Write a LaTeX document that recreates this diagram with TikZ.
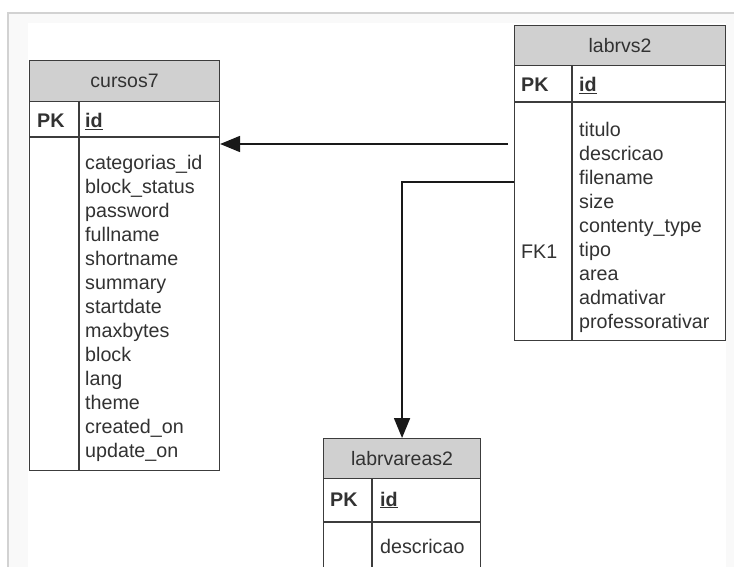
\documentclass[tikz,border=0pt]{standalone}
\usepackage{fontspec}
\setmainfont{Liberation Sans}
\usetikzlibrary{arrows.meta}
\definecolor{hdrgray}{RGB}{208,208,208}
\definecolor{linegray}{RGB}{60,60,60}
\definecolor{txtgray}{RGB}{50,50,50}
\tikzset{
  box/.style={draw=linegray, line width=1.1pt, inner sep=0pt, anchor=north west},
  hdr/.style={box, fill=hdrgray, text=txtgray, font=\fontsize{19.5}{24}\selectfont},
  fld/.style={inner sep=0pt, anchor=base west, text=txtgray, align=left, font=\fontsize{19.7}{24}\selectfont},
  sep/.style={draw=linegray, line width=1.1pt},
  rel/.style={draw=black!90, line width=1.8pt, -{Triangle[length=20pt,width=16pt]}}
}
\begin{document}
\begin{tikzpicture}[x=1pt,y=-1pt]
\useasboundingbox (0,0) rectangle (734,567);
% background frame
\fill[gray!5] (8,13) rectangle (736,569);
\fill[white] (28,23) rectangle (726,569);
\draw[gray!35, line width=1.2pt] (8,569) -- (8,13) -- (736,13);

% ---- cursos7 ----
\node[hdr, minimum width=190pt, minimum height=41pt] (c7) at (29,60) {cursos7};
\node[box, fill=white, minimum width=190pt, minimum height=369pt] (c7body) at (29,101) {};
\draw[sep] (29,137) -- (219,137);
\draw[sep] (79,101) -- (79,470);
\node[fld] (c7pk) at (37,128) {\textbf{PK}};
\node[fld] (c7id) at (85,128) {\textbf{\underline{id}}};
\node[fld, anchor=north west] (c7f) at (85,155) {categorias\_id\\block\_status\\password\\fullname\\shortname\\summary\\startdate\\maxbytes\\block\\lang\\theme\\created\_on\\update\_on};

% ---- labrvs2 ----
\node[hdr, minimum width=211pt, minimum height=40pt] (lv2) at (514,25) {labrvs2};
\node[box, fill=white, minimum width=211pt, minimum height=275pt] (lv2body) at (514,65) {};
\draw[sep] (514,102) -- (725,102);
\draw[sep] (572,65) -- (572,340);
\node[fld] (lv2pk) at (521,92) {\textbf{PK}};
\node[fld] (lv2id) at (579,92) {\textbf{\underline{id}}};
\node[fld] (lv2fk) at (521,258) {FK1};
\node[fld, anchor=north west] (lv2f) at (579,122) {titulo\\descricao\\filename\\size\\contenty\_type\\tipo\\area\\admativar\\professorativar};

% ---- labrvareas2 ----
\node[hdr, minimum width=157pt, minimum height=40pt] (la2) at (323,438) {labrvareas2};
\node[box, fill=white, minimum width=157pt, minimum height=95pt] (la2body) at (323,478) {};
\draw[sep] (323,522) -- (480,522);
\draw[sep] (372,478) -- (372,573);
\node[fld] (la2pk) at (330,506) {\textbf{PK}};
\node[fld] (la2id) at (380,506) {\textbf{\underline{id}}};
\node[fld] (la2f) at (380,553) {descricao};

% ---- relationships ----
\draw[rel, shorten <=6pt] (lv2body.west |- 0,144) -- (c7body.east |- 0,144);
\draw[rel] (lv2body.west |- 0,182) -| (la2.north);
\end{tikzpicture}
\end{document}
